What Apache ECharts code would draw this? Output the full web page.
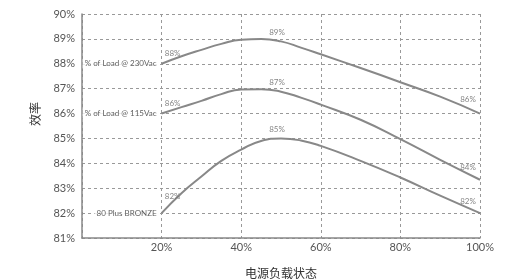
<!DOCTYPE html>
<html>
<head>
<meta charset="utf-8">
<script src="https://cdn.jsdelivr.net/npm/echarts@6/dist/echarts.min.js"></script>
<style>
  html, body { margin: 0; padding: 0; background: #fff; }
  #chart { width: 506px; height: 279px; }
</style>
</head>
<body>
<div id="chart"></div>
<script>
// 负载点 (%)
var loads = [20, 25, 30, 35, 40, 45, 50, 55, 60, 70, 80, 90, 100];
var seriesNames = ['% of Load @ 230Vac', '% of Load @ 115Vac', '80 Plus BRONZE'];
var eff230 = [88, 88.3, 88.56, 88.8, 88.97, 89.0, 88.9, 88.65, 88.38, 87.83, 87.26, 86.68, 86];
var eff115 = [86, 86.26, 86.51, 86.78, 86.97, 86.98, 86.88, 86.64, 86.36, 85.75, 84.97, 84.14, 83.34];
var effBronze = [82, 82.8, 83.47, 84.1, 84.55, 84.9, 85.0, 84.92, 84.7, 84.1, 83.43, 82.7, 82.0];
// 点上标注的文字 ('' = 不显示)
var labels230 = ['88%', '', '', '', '', '', '89%', '', '', '', '', '', '86%'];
var labels115 = ['86%', '', '', '', '', '', '87%', '', '', '', '', '', '84%'];
var labelsBronze = ['82%', '', '', '', '', '', '85%', '', '', '', '', '', '82%'];
var yMin = 81, yMax = 90;

// 每条线标注的偏移 [起点, 峰值, 终点]
var labelOffsets = [
  [[11, -1], [-4, 0], [-12, -5]],
  [[11, -1], [-4, 0], [-12, -3]],
  [[11, -8], [-4, 0], [-12, -3]]
];

var lineStyle = { color: '#888', width: 2 };
var series = [];
[[eff230, labels230], [eff115, labels115], [effBronze, labelsBronze]].forEach(function (d, k) {
  var vals = d[0], texts = d[1];
  series.push({
    name: seriesNames[k],
    type: 'line',
    smooth: 0.5,
    symbol: 'none',
    lineStyle: lineStyle,
    data: loads.map(function (x, i) { return [x, vals[i]]; }),
    z: 3
  });
  // 数值标注
  var last = loads.length - 1;
  series.push({
    type: 'scatter',
    symbolSize: 0,
    silent: true,
    z: 4,
    data: loads.map(function (x, i) {
      var off = i === 0 ? labelOffsets[k][0] : (i === last ? labelOffsets[k][2] : labelOffsets[k][1]);
      return {
        value: [x, vals[i]],
        label: {
          show: !!texts[i], position: 'top', distance: 5, formatter: texts[i],
          color: '#666', fontSize: 8, offset: off
        }
      };
    })
  });
  // 左侧系列名
  series.push({
    type: 'scatter',
    symbolSize: 0,
    silent: true,
    z: 4,
    data: [{
      value: [loads[0], vals[0]],
      label: {
        show: true, position: 'left', distance: 3, formatter: seriesNames[k],
        color: '#333', fontSize: 8, backgroundColor: '#fff', padding: [1, 2]
      }
    }]
  });
});

var option = {
  backgroundColor: '#fff',
  animation: false,
  textStyle: { fontFamily: 'Lato, "Noto Sans CJK SC", sans-serif' },
  grid: { left: 82, right: 26, top: 14, bottom: 41, outerBoundsMode: 'none' },
  xAxis: {
    type: 'value',
    min: 0,
    max: 100,
    interval: 20,
    name: '电源负载状态',
    nameLocation: 'middle',
    nameGap: 30,
    nameTextStyle: { color: '#333', fontSize: 12 },
    axisLine: { lineStyle: { color: '#888', width: 1.5 } },
    axisTick: { show: false },
    axisLabel: {
      color: '#555',
      fontSize: 11,
      margin: 4,
      formatter: function (v) { return v === 0 ? '' : v + '%'; }
    },
    splitLine: { show: true, lineStyle: { type: [3, 3], color: '#999' } }
  },
  yAxis: {
    type: 'value',
    min: yMin,
    max: yMax,
    interval: 1,
    name: '效率',
    nameLocation: 'middle',
    nameGap: 40,
    nameTextStyle: { color: '#333', fontSize: 12, padding: [0, 0, 0, 24] },
    axisLine: { show: true, lineStyle: { color: '#888', width: 1.5 } },
    axisTick: { show: false },
    axisLabel: { color: '#555', fontSize: 11, margin: 7, formatter: '{value}%' },
    splitLine: { show: true, lineStyle: { type: [3, 3], color: '#999' } }
  },
  series: series
};

var chart = echarts.init(document.getElementById('chart'));
chart.setOption(option);
</script>
</body>
</html>
